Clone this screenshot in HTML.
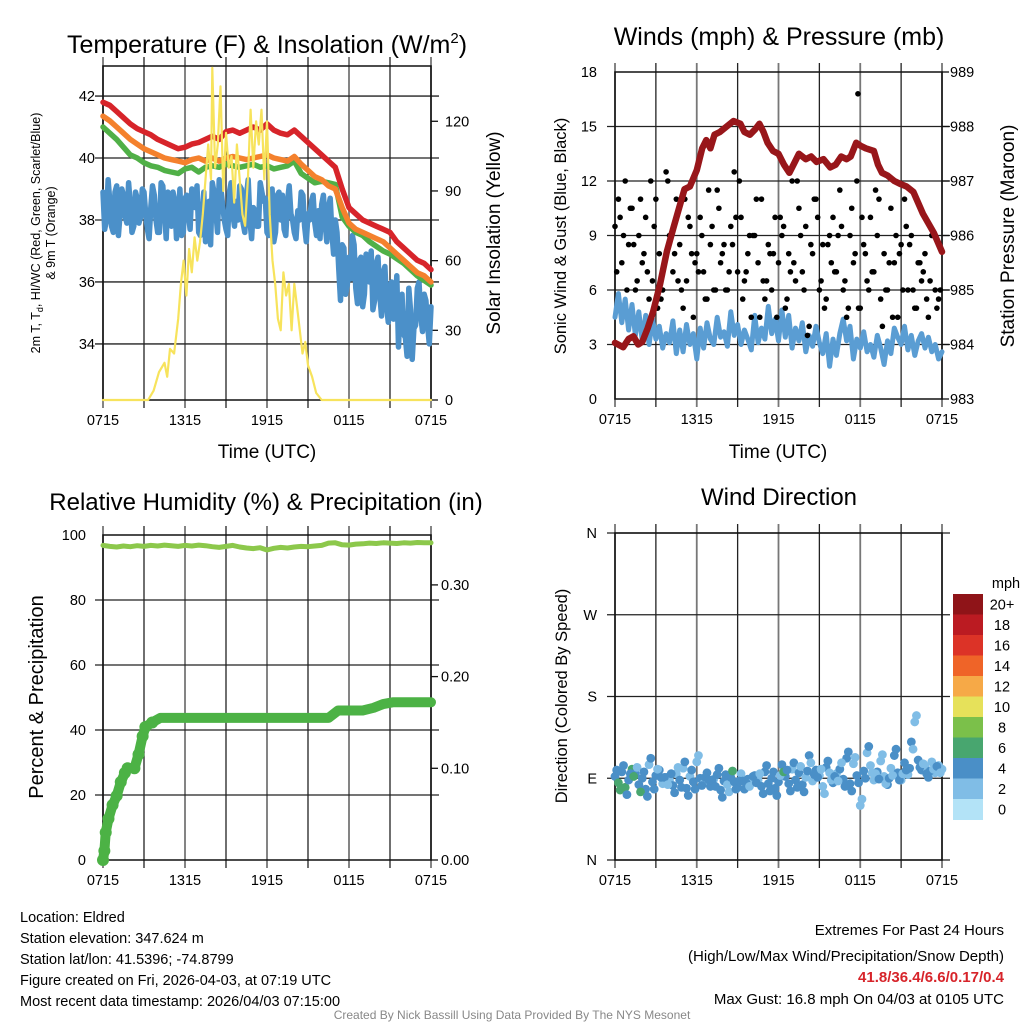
<!DOCTYPE html>
<html><head><meta charset="utf-8"><style>
html,body{margin:0;padding:0;background:#fff}
svg{display:block;font-family:"Liberation Sans",Arial,sans-serif}
</style></head><body>
<svg id="c" width="1024" height="1024" viewBox="0 0 1024 1024" xmlns="http://www.w3.org/2000/svg">
<rect width="1024" height="1024" fill="#fff"/>
<text x="267" y="53" font-size="25" text-anchor="middle">Temperature (F) &amp; Insolation (W/m<tspan font-size="15" dy="-10">2</tspan><tspan dy="10">)</tspan></text>
<text x="779" y="45" font-size="25" text-anchor="middle">Winds (mph) &amp; Pressure (mb)</text>
<text x="266" y="510" font-size="24" text-anchor="middle">Relative Humidity (%) &amp; Precipitation (in)</text>
<text x="779" y="505" font-size="24" text-anchor="middle">Wind Direction</text>
<text transform="translate(40,233) rotate(-90)" font-size="12.5" text-anchor="middle">2m T, T<tspan font-size="9" dy="3">d</tspan><tspan dy="-3">, HI/WC (Red, Green, Scarlet/Blue)</tspan></text>
<text transform="translate(55,233) rotate(-90)" font-size="12.5" text-anchor="middle">&amp; 9m T (Orange)</text>
<text transform="translate(500,233) rotate(-90)" font-size="19" text-anchor="middle">Solar Insolation (Yellow)</text>
<text transform="translate(566,236) rotate(-90)" font-size="16.5" text-anchor="middle">Sonic Wind &amp; Gust (Blue, Black)</text>
<text transform="translate(1014,236) rotate(-90)" font-size="19" text-anchor="middle">Station Pressure (Maroon)</text>
<text transform="translate(43,697) rotate(-90)" font-size="20" text-anchor="middle">Percent &amp; Precipitation</text>
<text transform="translate(567,696) rotate(-90)" font-size="16.5" text-anchor="middle">Direction (Colored By Speed)</text>
<text x="267" y="458" font-size="19" text-anchor="middle">Time (UTC)</text>
<text x="778" y="458" font-size="19" text-anchor="middle">Time (UTC)</text>
<g font-size="14.5">
<text x="20" y="922">Location: Eldred</text>
<text x="20" y="943">Station elevation: 347.624 m</text>
<text x="20" y="964">Station lat/lon: 41.5396; -74.8799</text>
<text x="20" y="985">Figure created on Fri, 2026-04-03, at 07:19 UTC</text>
<text x="20" y="1006">Most recent data timestamp: 2026/04/03 07:15:00</text>
</g>
<g font-size="15" text-anchor="end">
<text x="1004" y="935">Extremes For Past 24 Hours</text>
<text x="1004" y="961">(High/Low/Max Wind/Precipitation/Snow Depth)</text>
<text x="1004" y="982" fill="#d7242a" font-weight="bold">41.8/36.4/6.6/0.17/0.4</text>
<text x="1004" y="1004">Max Gust: 16.8 mph On 04/03 at 0105 UTC</text>
</g>
<text x="512" y="1019" font-size="12" fill="#888" text-anchor="middle">Created By Nick Bassill Using Data Provided By The NYS Mesonet</text>
</svg>
<script>
// ---- data ----
const xTickLabels = ["0715","1315","1915","0115","0715"];
const tempTicks = [34,36,38,40,42];
const solarTicks = [0,30,60,90,120];
const windTicks = [0,3,6,9,12,15,18];
const pressTicks = [983,984,985,986,987,988,989];
const rhTicks = [0,20,40,60,80,100];
const precipTicks = [0,0.1,0.2,0.3];
const precipTickLabels = ["0.00","0.10","0.20","0.30"];
const dirTicks = [0,90,180,270,360];
const dirTickLabels = ["N","E","S","W","N"];
const speedBins = ["0","2","4","6","8","10","12","14","16","18","20+"];
const speedColors = ["#b3e3f7","#80bde6","#4a8fc7","#48a66f","#7bc04a","#e6e15a","#f6a947","#ef6428","#dc3327","#bb1b22","#8f1418"];

const tempRed = [41.8,41.7,41.5,41.3,41.1,40.95,40.85,40.75,40.6,40.5,40.4,40.3,40.35,40.45,40.5,40.6,40.7,40.6,40.85,40.9,40.8,40.9,41.0,40.9,41.1,40.9,40.8,40.75,40.9,40.7,40.5,40.3,40.1,39.9,39.7,39.0,38.4,38.2,38.0,37.9,37.8,37.7,37.6,37.3,37.1,36.9,36.7,36.6,36.4];
const temp9m = [41.35,41.2,41.0,40.8,40.6,40.45,40.3,40.2,40.1,40.0,39.95,39.9,39.85,39.95,40.0,39.9,40.0,39.9,40.0,40.05,40.0,39.95,40.0,40.05,40.1,40.0,39.95,39.9,40.05,39.8,39.6,39.4,39.3,39.1,39.0,38.4,37.9,37.7,37.6,37.5,37.4,37.3,37.1,36.9,36.7,36.5,36.3,36.2,36.0];
const tempGreen = [41.0,40.8,40.6,40.35,40.1,40.0,39.85,39.75,39.7,39.6,39.55,39.5,39.65,39.7,39.55,39.7,39.75,39.7,39.8,39.75,39.7,39.75,39.8,39.7,39.75,39.65,39.7,39.75,39.9,39.5,39.35,39.2,39.25,39.2,39.15,38.1,37.8,37.6,37.5,37.3,37.15,37.0,36.9,36.75,36.6,36.4,36.2,36.05,35.9];
const dewBlue = [38.9,38.0,38.6,37.6,39.1,38.2,38.8,37.9,38.5,37.8,38.7,38.1,38.9,37.7,38.4,38.8,37.6,
39.2,38.3,38.9,37.8,38.6,38.0,37.5,38.7,38.2,39.0,38.4,37.6,38.1,37.3,38.6,39.2,
38.3,39.3,38.5,37.7,38.9,38.2,38.6,39.1,37.9,38.8,38.0,38.4,37.8,39.2,38.6,37.6,
38.4,37.3,38.8,38.0,37.7,38.6,38.2,37.6,38.3,38.9,37.8,38.2,38.6,37.9,38.3,38.5,
37.9,38.4,37.6,38.0,36.4,37.2,35.6,36.8,37.5,35.8,36.7,35.2,36.9,36.0,35.1,36.6,
35.6,36.3,35.2,35.9,34.8,36.2,35.4,34.3,33.6,35.1,34.5,35.8,34.9,35.6,34.6,35.2];
const dewBlueMid = [37.7,39.3,37.8,38.9,37.5,39.0,38.1,39.2,37.6,38.9,37.9,39.0,38.2,37.4,39.1,38.0,
37.6,39.1,37.4,38.8,38.9,37.4,39.0,37.6,38.8,37.7,38.6,39.1,37.5,38.9,37.8,37.2,
38.9,37.6,39.0,38.0,37.5,39.2,37.8,38.0,39.0,37.6,39.3,37.4,38.3,37.8,38.9,38.7,
37.5,39.0,37.6,38.9,38.8,37.5,39.1,38.0,37.4,38.0,38.8,37.3,38.0,38.8,37.5,37.4,
38.8,37.3,38.7,36.9,37.6,35.4,37.1,35.9,36.1,37.2,35.3,36.8,35.6,36.4,37.0,35.4,
36.8,34.9,36.5,34.7,36.0,35.0,33.9,35.6,34.2,35.8,33.5,34.6,36.0,34.4,35.4,34.0];
const solarHours = [0,3.3,3.7,4.1,4.5,4.7,4.9,5.2,5.5,5.7,5.9,6.1,6.3,6.5,6.7,6.9,7.1,7.3,7.5,7.7,7.9,8.0,8.2,8.4,8.6,8.8,9.0,9.2,9.4,9.6,9.8,10.0,10.2,10.4,10.6,10.8,11.0,11.2,11.4,11.6,11.8,12.0,12.2,12.4,12.6,12.8,13.0,13.2,13.4,13.6,13.8,14.0,14.2,14.4,14.6,14.8,15.0,15.3,15.6,16.0,24];
const solarValues = [0,0,4,12,16,10,22,20,35,50,60,45,65,55,70,60,68,80,95,110,95,143,100,110,135,90,115,100,105,85,110,95,80,75,95,125,100,120,110,125,95,120,80,60,50,35,30,55,45,50,30,50,40,30,20,25,15,10,3,0,0];

const sonicWind = [4.5,5.8,4.2,5.5,3.8,5.2,3.5,4.8,3.2,4.6,3.0,4.4,3.3,4.0,2.8,3.6,3.1,
4.3,2.5,3.8,2.6,4.1,3.0,3.6,2.2,3.9,2.8,4.2,3.3,3.0,4.5,3.4,3.7,
2.9,4.8,3.5,4.1,3.0,3.8,3.3,2.7,4.6,3.1,3.9,3.3,5.1,3.6,4.4,3.2,
4.9,3.4,4.6,2.8,3.9,3.2,4.2,2.6,3.5,2.9,4.0,3.1,2.5,3.6,1.8,3.3,
2.4,3.6,4.4,3.2,4.0,2.2,3.3,2.8,3.7,2.6,3.0,2.3,3.5,2.8,1.9,3.2,
2.5,3.9,3.4,3.0,4.0,2.7,3.5,2.4,3.2,3.6,2.8,3.4,2.6,3.0,2.2,2.6];
const gustA = [9.5,11,7.5,12,8.5,10.5,6,9,7.5,10,5.5,6.5,11,8,6,12.5,9,
7,11,8.5,5,6.5,9.5,4.5,8,10,7,5.5,8.5,6,11.5,7.5,
8.5,6,9.5,12.5,7,10,6.5,8,4.5,9,7.5,11,5.5,8.5,6,10,
7.5,9,5,8,12,6.5,10.5,7,9.5,4,8,11,6,8.5,5.5,9,
10,7,11.5,6,4.5,9,7.5,12,5,8.5,6.5,10,7,9,5.5,8,
6,10.5,7.5,4.5,8.5,11,6,9,5,7.5,6.5,8,4.5,9,6,5.5];
const gustB = [7,9,10.5,6.5,8,12,5,7.5,9,6.5,11,8,7,5.5,9.5,10.5,6,8.5,12,7,9,4.5,6.5,8,10,5.5,7.5,9,3.5,11,6.5,8.5,7,9.5,5,8,10,6,11.5,4,7.5,9,6,8.5,5,7,6.5,5];
const gustC = [10,6,8.5,11,7,9.5,5.5,12,8,6,10,7.5,9,11.5,6,8,7,10,5.5,9,11,6.5,8,4.5,9.5,7,12,6,8.5,10,5,7.5,9,6.5,10.5,5,8,7,11,6,4.5,8,9.5,6,7.5,5.5,9,6];
const maxGustHour = [17.83];
const maxGustValue = [16.8];
const pressHours = [0,0.6,1.0,1.35,1.7,2.0,2.4,2.8,3.3,3.8,4.3,4.7,5.1,5.5,6.0,6.4,6.7,7.0,7.3,7.7,8.2,8.7,9.2,9.5,9.9,10.3,10.6,10.9,11.2,11.6,12.0,12.4,12.8,13.2,13.5,14.0,14.4,14.8,15.3,15.8,16.2,16.6,17.0,17.3,17.7,18.0,18.4,19.0,19.3,19.6,20.0,20.5,20.9,21.4,21.9,22.6,23.4,24];
const pressValues = [984.03,983.95,984.1,984.15,984.0,984.05,984.3,984.6,985.1,985.7,986.15,986.5,986.85,986.9,987.2,987.6,987.75,987.6,987.85,987.9,988.0,988.1,988.05,987.9,987.85,987.95,988.05,987.9,987.7,987.55,987.5,987.3,987.15,987.35,987.5,987.4,987.45,987.35,987.4,987.25,987.3,987.45,987.4,987.45,987.7,987.65,987.6,987.55,987.3,987.15,987.1,987.0,986.95,986.9,986.8,986.4,986.05,985.7];

const rhValues = [96.8,96.5,96.3,96.6,96.4,96.7,96.5,96.8,96.6,96.9,96.7,96.5,96.8,96.6,96.9,96.7,96.4,96.2,96.5,96.8,96.3,96.0,95.8,96.1,95.4,95.9,96.2,96.0,96.3,96.5,96.4,96.6,96.8,97.5,97.6,97.0,96.9,97.2,97.3,97.5,97.4,97.6,97.5,97.4,97.6,97.5,97.7,97.6,97.6];
const precipHours = [0,0.1,0.2,0.4,0.7,1.0,1.3,1.6,1.8,2.3,2.6,2.9,3.1,3.6,4.2,16.5,17.2,19.0,19.8,20.5,21.2,24];
const precipValues = [0,0.01,0.03,0.045,0.06,0.07,0.085,0.095,0.10,0.10,0.115,0.135,0.145,0.15,0.155,0.155,0.163,0.163,0.166,0.17,0.172,0.172];
const windDir = [92,85,97,80,88,100,95,83,90,78,105,86,93,99,84,91,88,
82,95,88,101,79,92,86,108,90,84,96,81,89,94,77,87,
83,91,86,80,95,78,89,85,93,88,81,97,84,90,79,86,
105,92,84,100,88,96,83,91,115,87,99,93,81,102,96,85,
95,100,89,112,84,106,93,60,98,118,104,88,97,109,92,83,
101,115,96,88,107,94,130,152,110,99,103,91,108,96,104,100];

// ---- helpers ----
const NS="http://www.w3.org/2000/svg";
const svg=document.getElementById('c');
function mk(tag,attrs,parent){const e=document.createElementNS(NS,tag);for(const k in attrs)e.setAttribute(k,attrs[k]);(parent||svg).appendChild(e);return e;}
function lin(d0,d1,r0,r1){return v=>r0+(v-d0)*(r1-r0)/(d1-d0);}
function pathD(xs,ys){return xs.map((x,i)=>(i?'L':'M')+x.toFixed(1)+','+ys[i].toFixed(1)).join('');}
function hoursStep(n,step,off){const a=[];for(let i=0;i<n;i++)a.push(off+i*step);return a;}

function frame(P,name){
  const g=mk('g',{});
  
  
  for(let h=0;h<=24;h+=3){const x=P.x(h);mk('line',{x1:x,x2:x,y1:P.y0-9,y2:P.y1+8,stroke:h%6?'#222':'#777','stroke-width':h%6?1.3:1.8},g);}
  P.hgrid.forEach(v=>{const y=P.yl(v);mk('line',{x1:P.x0-8,x2:P.x1+8,y1:y,y2:y,stroke:'#222','stroke-width':1.3},g);});
  mk('rect',{x:P.x0,y:P.y0,width:P.x1-P.x0,height:P.y1-P.y0,fill:'none',stroke:'#111','stroke-width':1.5},g);
  const tg=mk('g',{'font-size':14.5,'text-anchor':'middle'});
  
  
  xTickLabels.forEach((t,i)=>{const e=mk('text',{x:P.x(i*6),y:P.y1+25},tg);e.textContent=t;});
}
function leftTicks(P,vals,labels,name,xr){
  const g=mk('g',{'font-size':14.5,'text-anchor':'end'});
  
  
  vals.forEach((v,i)=>{const e=mk('text',{x:xr,y:P.yl(v)+5},g);e.textContent=labels?labels[i]:v;});
}
function rightTicks(P,yf,vals,labels,name,xl){
  const g=mk('g',{'font-size':14.5,'text-anchor':'start'});
  
  
  vals.forEach((v,i)=>{const y=yf(v);mk('line',{x1:P.x1,x2:P.x1+7,y1:y,y2:y,stroke:'#111','stroke-width':1.3},g);const e=mk('text',{x:xl,y:y+5},g);e.textContent=labels?labels[i]:v;});
}
function line(xs,ys,color,w,name){
  const e=mk('path',{d:pathD(xs,ys),fill:'none',stroke:color,'stroke-width':w,'stroke-linejoin':'round','stroke-linecap':'round'});
  
  
  return e;
}

// ---- Panel 1: temperature ----
const P1={x0:103,x1:431,y0:66,y1:400};
P1.x=lin(0,24,P1.x0,P1.x1);P1.yl=lin(32.19,42.97,400,66);P1.hgrid=tempTicks;
const ySol=lin(0,143.8,400,66);
frame(P1,'temperature');
leftTicks(P1,tempTicks,null,'temperature-y-tick-labels',95);
rightTicks(P1,ySol,solarTicks,null,'insolation-y-tick-labels',445);
const h49=hoursStep(49,0.5,0), h97=hoursStep(97,0.25,0);
const dewH=[],dewV=[];
dewBlue.forEach((v,i)=>{dewH.push(h97[i]);dewV.push(v);if(i<dewBlueMid.length){dewH.push(h97[i]+0.125);dewV.push(dewBlueMid[i]);}});
line(dewH.map(P1.x),dewV.map(P1.yl),'#4b90c9',5.5,'dewpoint-line');
line(h49.map(P1.x),tempGreen.map(P1.yl),'#50b047',5.5,'heat-index-line');
line(h49.map(P1.x),temp9m.map(P1.yl),'#f4812d',5.5,'temp-9m-line');
line(h49.map(P1.x),tempRed.map(P1.yl),'#d7242a',5.5,'temp-2m-line');
line(solarHours.map(P1.x),solarValues.map(ySol),'#f7e35c',2.2,'insolation-line');

// ---- Panel 2: winds ----
const P2={x0:615,x1:942,y0:72,y1:399};
P2.x=lin(0,24,P2.x0,P2.x1);P2.yl=lin(0,18,399,72);P2.hgrid=windTicks.slice(1,6);
const yP=lin(983,989,399,72);
frame(P2,'winds');
leftTicks(P2,windTicks,null,'wind-y-tick-labels',597);
rightTicks(P2,yP,pressTicks,null,'pressure-y-tick-labels',950);
line(h97.map(P2.x),sonicWind.map(P2.yl),'#5a9dd3',5,'sonic-wind-line');
const gg=mk('g',{fill:'#000'});


gustA.forEach((v,i)=>mk('circle',{cx:P2.x(h97[i]),cy:P2.yl(v),r:2.8},gg));
gustB.forEach((v,i)=>mk('circle',{cx:P2.x(i*0.5+0.125),cy:P2.yl(v),r:2.8},gg));
gustC.forEach((v,i)=>mk('circle',{cx:P2.x(i*0.5+0.375),cy:P2.yl(v),r:2.8},gg));
maxGustValue.forEach((v,i)=>mk('circle',{cx:P2.x(maxGustHour[i]),cy:P2.yl(v),r:2.8},gg));
line(pressHours.map(P2.x),pressValues.map(yP),'#98161a',6.5,'pressure-line');

// ---- Panel 3: humidity ----
const P3={x0:103,x1:431,y0:535,y1:860};
P3.x=lin(0,24,P3.x0,P3.x1);P3.yl=lin(0,100,860,535);P3.hgrid=rhTicks.slice(1,5);
const yPr=lin(0,0.1,860,768.3);
frame(P3,'humidity');
leftTicks(P3,rhTicks,null,'humidity-y-tick-labels',86);
rightTicks(P3,yPr,precipTicks,precipTickLabels,'precip-y-tick-labels',441);
line(h49.map(P3.x),rhValues.map(P3.yl),'#8cc84b',5,'humidity-line');
line(precipHours.map(P3.x),precipValues.map(yPr),'#4cb245',10,'precip-line');
const pc=mk('g',{fill:'#4cb245'});


precipHours.slice(0,14).forEach((h,i)=>mk('circle',{cx:P3.x(h),cy:yPr(precipValues[i]),r:6},pc));

// ---- Panel 4: direction ----
const P4={x0:615,x1:942,y0:533,y1:860};
P4.x=lin(0,24,P4.x0,P4.x1);P4.yl=lin(0,360,860,533);P4.hgrid=dirTicks;
frame(P4,'direction');
leftTicks(P4,dirTicks,dirTickLabels,'direction-y-tick-labels',597);
const dg=mk('g',{});


function binColor(s){return speedColors[Math.min(10,Math.floor((s+0.8)/2))];}
windDir.forEach((d,i)=>{mk('circle',{cx:P4.x(h97[i]),cy:P4.yl(d),r:4.4,fill:binColor(sonicWind[i])},dg);});
windDir.forEach((d,i)=>{if(i<96)mk('circle',{cx:P4.x(h97[i]+0.125),cy:P4.yl(d+(i%2?-8:7)),r:4.4,fill:binColor(sonicWind[i]+(i%3?0.6:-0.6))},dg);});
// colorbar
const cb=mk('g',{});


const cbTop=594,cbH=20.5;
speedBins.slice().reverse().forEach((lab,k)=>{
  const idx=10-k;
  mk('rect',{x:953,y:cbTop+k*cbH,width:30,height:cbH+0.5,fill:speedColors[idx]},cb);
  const t=mk('text',{x:1002,y:cbTop+k*cbH+cbH/2+5,'font-size':14.5,'text-anchor':'middle'},cb);t.textContent=lab;
});
const mt=mk('text',{x:1006,y:588,'font-size':14.5,'text-anchor':'middle'},cb);mt.textContent='mph';
</script>
</body></html>
